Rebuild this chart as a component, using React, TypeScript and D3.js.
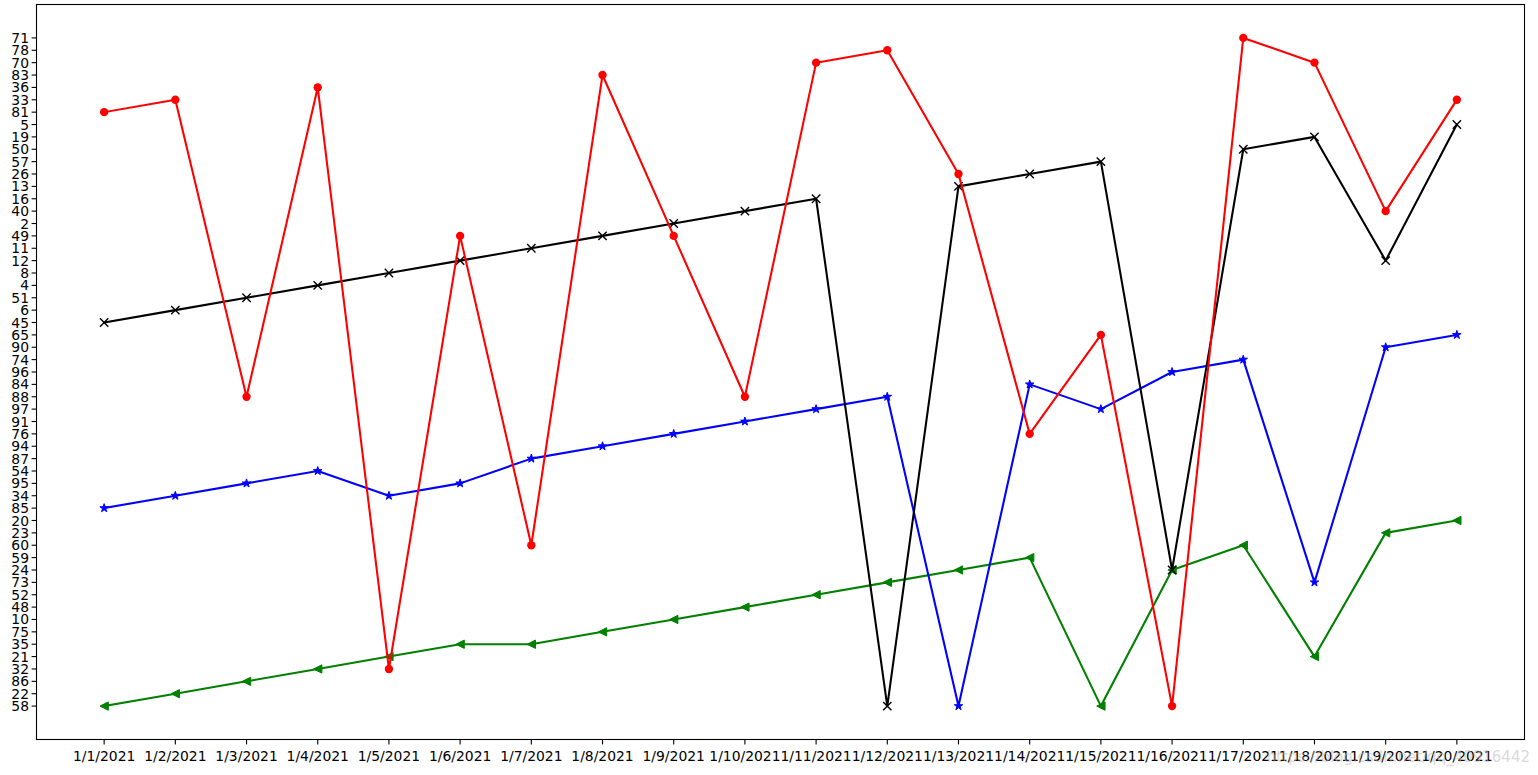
import React from "react";
import * as d3 from "d3";

const dates = ["1/1/2021","1/2/2021","1/3/2021","1/4/2021","1/5/2021","1/6/2021","1/7/2021","1/8/2021","1/9/2021","1/10/2021","1/11/2021","1/12/2021","1/13/2021","1/14/2021","1/15/2021","1/16/2021","1/17/2021","1/18/2021","1/19/2021","1/20/2021"];

const greenValues = ["58","22","86","32","21","35","35","75","10","48","52","73","24","59","58","24","60","21","23","20"];
const blueValues = ["85","34","95","54","34","95","87","94","76","91","97","88","58","84","97","96","74","73","90","65"];
const blackValues = ["45","6","51","4","8","12","11","49","2","40","16","58","13","26","57","24","50","19","12","5"];
const redValues = ["81","33","88","36","32","49","60","83","49","88","70","78","26","76","65","58","71","70","40","33"];

const seriesList = [
  { name: "green", values: greenValues, color: "green", marker: "tri" },
  { name: "blue", values: blueValues, color: "blue", marker: "star" },
  { name: "black", values: blackValues, color: "black", marker: "x" },
  { name: "red", values: redValues, color: "red", marker: "circle" },
];

// categories in order of first appearance (matplotlib string axis behaviour)
const categories: string[] = [];
seriesList.forEach((s) => s.values.forEach((v) => { if (!categories.includes(v)) categories.push(v); }));

const W = 1538, H = 775;
const L = 36.5, R = 1524.5, T = 4.5, B = 739.5;

export default function App() {
  const x = d3.scalePoint<string>().domain(dates).range([L, R]).padding(0.95);
  const y = d3.scalePoint<string>().domain(categories).range([B, T]).padding(2.7);
  const line = d3.line<[string, string]>().x((d) => x(d[0])!).y((d) => y(d[1])!);
  const ms = 8.33;
  const starPath = (() => {
    const pts: string[] = [];
    const ro = ms / 2 + 0.3, ri = ro * 0.381966;
    for (let i = 0; i < 10; i++) {
      const r = i % 2 === 0 ? ro : ri;
      const a = -Math.PI / 2 + (i * Math.PI) / 5;
      pts.push(`${(r * Math.cos(a)).toFixed(2)},${(r * Math.sin(a)).toFixed(2)}`);
    }
    return "M" + pts.join("L") + "Z";
  })();
  const h = ms / 2;
  const triPath = `M${-h},0L${h},${-h}L${h},${h}Z`;
  const marker = (m: string, color: string, cx: number, cy: number, key: string) => {
    if (m === "circle") return <circle key={key} cx={cx} cy={cy} r={h} fill={color} />;
    if (m === "x") return <path key={key} transform={`translate(${cx},${cy})`} d={`M${-h},${-h}L${h},${h}M${-h},${h}L${h},${-h}`} stroke={color} strokeWidth={1.4} fill="none" />;
    if (m === "star") return <path key={key} transform={`translate(${cx},${cy})`} d={starPath} fill={color} stroke={color} strokeWidth={1} strokeLinejoin="miter" />;
    return <path key={key} transform={`translate(${cx},${cy})`} d={triPath} fill={color} stroke={color} strokeWidth={1} />;
  };
  const font = "DejaVu Sans, sans-serif";
  return (
    <svg width={W} height={H} style={{ position: "absolute", left: 0, top: 0, background: "white" }} fontFamily={font}>
      <rect x={0} y={0} width={W} height={H} fill="white" />
      {seriesList.map((s) => {
        const pts = dates.map((d, i) => [d, s.values[i]] as [string, string]);
        return (
          <g key={s.name}>
            <path d={line(pts)!} fill="none" stroke={s.color} strokeWidth={2.08} strokeLinejoin="round" strokeLinecap="square" />
            {pts.map((p, i) => marker(s.marker, s.color, x(p[0])!, y(p[1])!, s.name + i))}
          </g>
        );
      })}
      <rect x={L} y={T} width={R - L} height={B - T} fill="none" stroke="black" strokeWidth={1.1} />
      {categories.map((c) => (
        <g key={"y" + c} transform={`translate(0,${y(c)})`}>
          <line x1={L} x2={L - 4.9} y1={0} y2={0} stroke="black" strokeWidth={1.1} />
          <text x={L - 7.5} y={0} dy="0.36em" textAnchor="end" fontSize={13.9} fill="black">{c}</text>
        </g>
      ))}
      {dates.map((d) => (
        <g key={"x" + d} transform={`translate(${x(d)},0)`}>
          <line x1={0} x2={0} y1={B} y2={B + 4.9} stroke="black" strokeWidth={1.1} />
          <text x={0} y={B + 21} textAnchor="middle" fontSize={13.9} fill="black">{d}</text>
        </g>
      ))}
      <text x={1530} y={762} textAnchor="end" fontSize={15} fill="#bbbbbb" opacity={0.55}>https://blog.csdn.net/qq_40916442</text>
    </svg>
  );
}
